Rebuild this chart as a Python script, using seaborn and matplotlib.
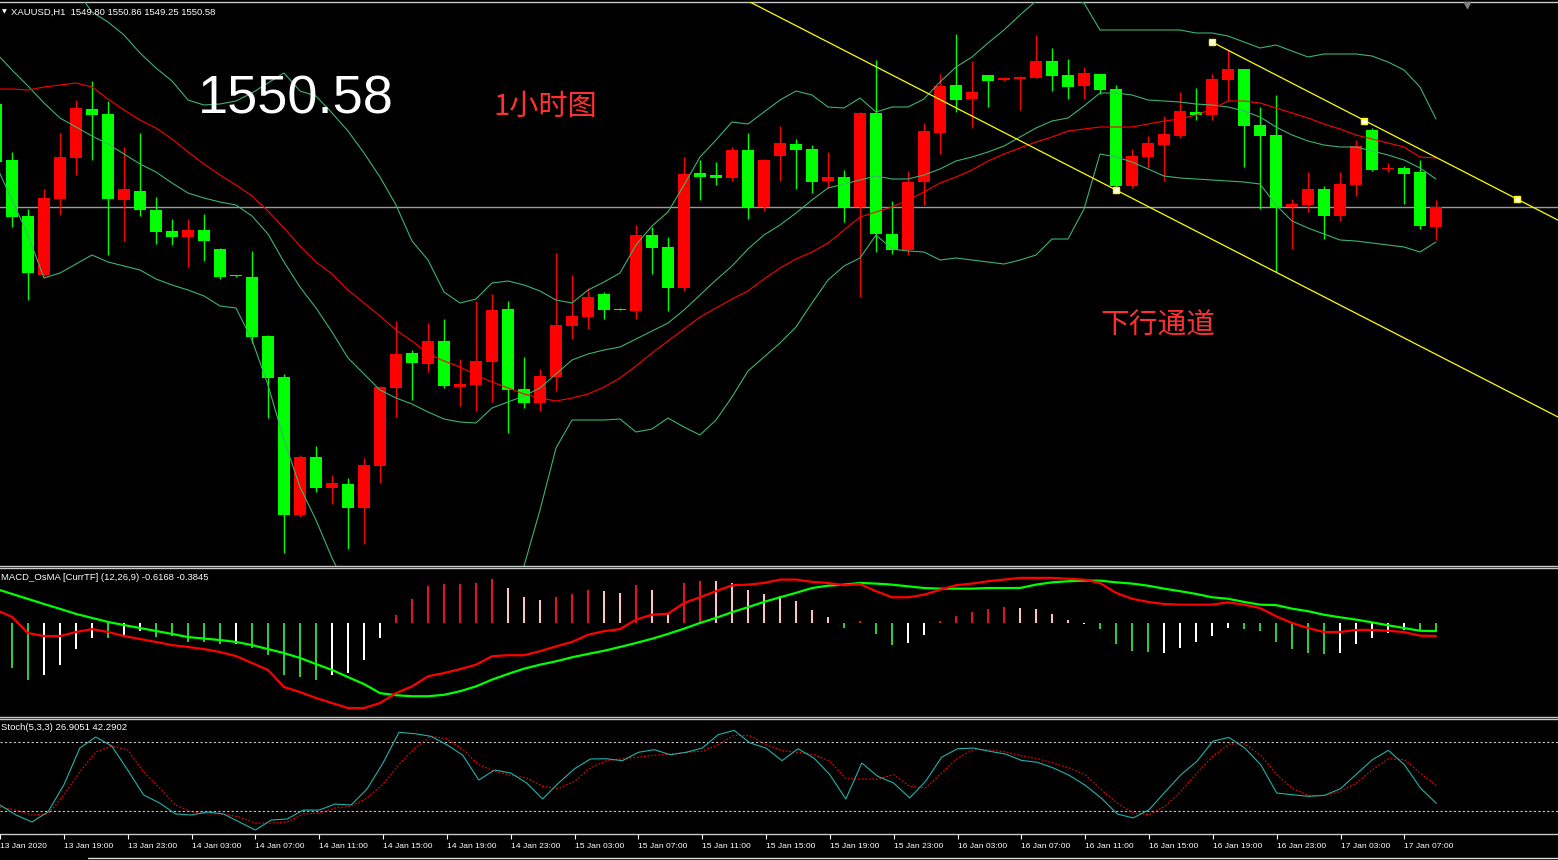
import numpy as np
import matplotlib
matplotlib.use("Agg")
import matplotlib.pyplot as plt
import seaborn as sns
from matplotlib.lines import Line2D
from matplotlib import font_manager

# ---------------- data ----------------
symbol_header = "XAUUSD,H1  1549.80 1550.86 1549.25 1550.58"
macd_header = "MACD_OsMA [CurrTF] (12,26,9) -0.6168 -0.3845"
stoch_header = "Stoch(5,3,3) 26.9051 42.2902"
price_label = "1550.58"
note_tf = "1小时图"
note_channel = "下行通道"

tick_pos = [0, 4, 8, 12, 16, 20, 24, 28, 32, 36, 40, 44, 48, 52, 56, 60, 64, 68, 72, 76, 80, 84, 88]
tick_labels = ["13 Jan 2020", "13 Jan 19:00", "13 Jan 23:00", "14 Jan 03:00", "14 Jan 07:00",
               "14 Jan 11:00", "14 Jan 15:00", "14 Jan 19:00", "14 Jan 23:00", "15 Jan 03:00",
               "15 Jan 07:00", "15 Jan 11:00", "15 Jan 15:00", "15 Jan 19:00", "15 Jan 23:00",
               "16 Jan 03:00", "16 Jan 07:00", "16 Jan 11:00", "16 Jan 15:00", "16 Jan 19:00",
               "16 Jan 23:00", "17 Jan 03:00", "17 Jan 07:00"]

opens = [1554.70, 1552.46, 1550.22, 1547.86, 1550.90, 1552.54, 1554.50, 1554.30, 1550.86, 1551.22,
         1550.46, 1549.62, 1549.38, 1549.66, 1548.90, 1547.86, 1547.78, 1545.42, 1543.78, 1538.26,
         1540.58, 1539.34, 1539.50, 1538.54, 1540.22, 1543.34, 1544.74, 1544.30, 1545.22, 1543.38,
         1543.46, 1544.38, 1546.50, 1543.30, 1542.74, 1543.78, 1545.82, 1546.18, 1547.10, 1546.50,
         1546.42, 1549.46, 1548.98, 1547.34, 1551.94, 1551.86, 1551.74, 1552.86, 1550.58, 1552.62,
         1553.10, 1552.90, 1551.62, 1551.78, 1550.58, 1554.34, 1549.50, 1548.86, 1551.58, 1553.54,
         1555.46, 1554.90, 1555.86, 1555.66, 1555.70, 1555.74, 1556.42, 1555.86, 1555.42, 1555.90,
         1555.30, 1551.42, 1552.58, 1553.06, 1553.42, 1554.38, 1554.26, 1555.66, 1556.10, 1553.86,
         1553.46, 1550.58, 1550.66, 1551.30, 1550.22, 1551.46, 1553.66, 1552.12, 1552.14, 1551.98,
         1549.80]
highs = [1554.86, 1552.78, 1550.50, 1551.30, 1553.54, 1554.86, 1555.62, 1554.82, 1552.98, 1553.54,
         1550.98, 1550.10, 1550.10, 1550.30, 1548.94, 1547.86, 1548.82, 1545.46, 1543.90, 1540.66,
         1541.02, 1539.86, 1539.74, 1540.54, 1543.42, 1546.02, 1544.86, 1545.94, 1546.10, 1544.50,
         1546.82, 1547.10, 1546.82, 1544.58, 1544.10, 1548.74, 1547.86, 1547.34, 1547.18, 1546.54,
         1549.86, 1549.78, 1549.38, 1552.58, 1552.46, 1552.38, 1552.98, 1553.54, 1552.50, 1553.82,
         1553.30, 1553.06, 1552.78, 1552.06, 1554.38, 1556.46, 1550.82, 1552.02, 1553.94, 1555.90,
         1557.50, 1556.42, 1555.86, 1555.74, 1555.82, 1557.46, 1556.94, 1556.50, 1556.18, 1555.90,
         1555.46, 1552.90, 1553.42, 1554.22, 1555.18, 1555.34, 1555.90, 1556.86, 1556.10, 1554.58,
         1555.06, 1550.90, 1551.98, 1551.42, 1551.98, 1553.26, 1553.74, 1552.34, 1552.22, 1552.46,
         1550.86]
lows = [1552.26, 1549.78, 1546.86, 1547.82, 1550.26, 1551.86, 1552.46, 1548.66, 1549.22, 1550.22,
        1549.10, 1549.06, 1548.18, 1548.42, 1547.70, 1547.78, 1545.14, 1542.14, 1536.74, 1538.18,
        1539.18, 1538.70, 1536.90, 1537.10, 1539.54, 1542.18, 1542.86, 1543.98, 1543.34, 1542.62,
        1542.42, 1542.78, 1541.54, 1542.54, 1542.42, 1543.22, 1545.30, 1545.70, 1546.10, 1546.46,
        1546.10, 1547.90, 1546.42, 1547.22, 1550.86, 1551.46, 1551.62, 1550.10, 1550.42, 1551.62,
        1551.30, 1551.14, 1551.34, 1549.98, 1546.98, 1548.78, 1548.70, 1548.66, 1550.66, 1552.70,
        1554.38, 1553.74, 1554.58, 1555.62, 1554.46, 1555.74, 1555.22, 1554.90, 1554.90, 1555.10,
        1551.30, 1551.34, 1552.14, 1551.62, 1553.34, 1554.06, 1554.06, 1554.82, 1552.18, 1550.50,
        1547.98, 1548.90, 1550.38, 1549.30, 1550.02, 1551.02, 1552.02, 1551.98, 1550.70, 1549.70,
        1549.25]
closes = [1552.38, 1550.18, 1547.94, 1550.94, 1552.58, 1554.54, 1554.26, 1550.90, 1551.30, 1550.46,
          1549.58, 1549.38, 1549.66, 1549.22, 1547.78, 1547.82, 1545.38, 1543.74, 1538.26, 1540.58,
          1539.34, 1539.54, 1538.54, 1540.26, 1543.38, 1544.70, 1544.34, 1545.22, 1543.42, 1543.50,
          1544.42, 1546.46, 1543.26, 1542.74, 1543.82, 1545.86, 1546.22, 1546.98, 1546.46, 1546.46,
          1549.46, 1548.94, 1547.34, 1551.90, 1551.78, 1551.74, 1552.86, 1550.58, 1552.46, 1553.14,
          1552.86, 1551.58, 1551.78, 1550.58, 1554.34, 1549.50, 1548.86, 1551.58, 1553.62, 1555.42,
          1554.86, 1555.18, 1555.62, 1555.74, 1555.78, 1556.42, 1555.82, 1555.38, 1555.94, 1555.26,
          1551.42, 1552.62, 1553.14, 1553.50, 1554.42, 1554.26, 1555.70, 1556.10, 1553.82, 1553.42,
          1550.58, 1550.70, 1551.30, 1550.22, 1551.50, 1553.02, 1552.06, 1552.14, 1551.90, 1549.82,
          1550.58]

bb_upper = [1561.22, 1561.26, 1561.38, 1561.46, 1560.34, 1559.26, 1558.38, 1557.98, 1557.46, 1556.74,
            1556.14, 1555.62, 1554.86, 1554.66, 1554.70, 1554.82, 1555.14, 1555.54, 1555.94, 1555.22,
            1555.02, 1554.34, 1553.62, 1552.74, 1551.78, 1550.66, 1549.22, 1548.46, 1547.18, 1546.74,
            1546.90, 1547.54, 1547.62, 1547.46, 1547.22, 1546.86, 1546.74, 1547.26, 1547.58, 1547.94,
            1549.06, 1549.82, 1550.38, 1551.46, 1552.58, 1553.26, 1553.98, 1553.90, 1554.38, 1554.86,
            1555.22, 1555.06, 1554.58, 1554.54, 1554.94, 1554.38, 1554.58, 1554.58, 1554.90, 1555.58,
            1556.18, 1556.58, 1557.14, 1557.66, 1558.26, 1558.82, 1558.86, 1558.98, 1558.74, 1557.66,
            1557.66, 1557.66, 1557.66, 1557.66, 1557.66, 1557.54, 1557.54, 1557.42, 1557.18, 1556.94,
            1557.06, 1556.82, 1556.58, 1556.70, 1556.70, 1556.70, 1556.62, 1556.38, 1556.06, 1555.38,
            1554.10]
bb_middle = [1556.74, 1556.06, 1555.42, 1554.74, 1554.14, 1553.78, 1553.42, 1553.10, 1552.70, 1552.30,
             1551.98, 1551.54, 1551.14, 1550.94, 1550.78, 1550.66, 1550.22, 1549.50, 1548.38, 1547.38,
             1546.54, 1545.58, 1544.54, 1543.90, 1543.26, 1542.94, 1542.70, 1542.38, 1542.10, 1541.98,
             1541.94, 1542.54, 1542.78, 1543.02, 1543.34, 1543.90, 1544.46, 1544.70, 1544.86, 1544.98,
             1545.30, 1545.62, 1545.94, 1546.46, 1547.06, 1547.66, 1548.22, 1548.90, 1549.46, 1549.86,
             1550.34, 1550.86, 1551.34, 1551.50, 1551.66, 1551.82, 1551.70, 1551.70, 1551.86, 1552.10,
             1552.42, 1552.58, 1552.78, 1553.02, 1553.38, 1553.74, 1554.02, 1554.14, 1554.62, 1555.14,
             1555.14, 1555.06, 1554.86, 1554.82, 1554.78, 1554.70, 1554.66, 1554.58, 1554.42, 1554.18,
             1553.78, 1553.46, 1553.22, 1553.06, 1552.98, 1552.98, 1552.82, 1552.66, 1552.46, 1552.14,
             1551.70]
bb_lower = [1552.26, 1550.86, 1549.46, 1547.74, 1547.94, 1548.30, 1548.66, 1548.38, 1548.22, 1548.06,
            1547.70, 1547.46, 1547.26, 1547.02, 1546.62, 1546.54, 1545.26, 1543.46, 1541.26, 1539.38,
            1538.06, 1536.54, 1535.26, 1534.86, 1534.66, 1534.86, 1535.06, 1535.26, 1535.46, 1535.66,
            1535.74, 1535.86, 1535.98, 1536.22, 1538.46, 1540.94, 1542.06, 1542.06, 1542.06, 1542.10,
            1541.58, 1541.70, 1542.14, 1541.78, 1541.46, 1542.06, 1542.98, 1544.02, 1544.58, 1545.14,
            1545.78, 1546.74, 1547.66, 1548.22, 1548.54, 1549.46, 1548.90, 1548.82, 1548.78, 1548.46,
            1548.54, 1548.46, 1548.38, 1548.30, 1548.46, 1548.66, 1549.30, 1549.30, 1550.50, 1552.70,
            1552.58, 1552.38, 1552.10, 1551.82, 1551.74, 1551.70, 1551.66, 1551.62, 1551.58, 1551.50,
            1550.66, 1550.02, 1549.74, 1549.50, 1549.26, 1549.22, 1549.14, 1549.06, 1548.98, 1548.78,
            1549.18]
ma_red = [1555.30, 1555.30, 1555.26, 1555.38, 1555.46, 1555.54, 1555.38, 1554.90, 1554.46, 1554.06,
          1553.74, 1553.30, 1552.78, 1552.30, 1551.86, 1551.46, 1551.02, 1550.42, 1549.74, 1549.02,
          1548.38, 1547.90, 1547.26, 1546.74, 1546.22, 1545.66, 1545.22, 1544.70, 1544.42, 1544.18,
          1543.86, 1543.58, 1543.34, 1543.10, 1542.94, 1542.82, 1542.94, 1543.10, 1543.38, 1543.74,
          1544.22, 1544.74, 1545.22, 1545.70, 1546.18, 1546.54, 1546.90, 1547.22, 1547.70, 1548.14,
          1548.50, 1548.78, 1549.14, 1549.66, 1550.18, 1550.38, 1550.58, 1550.86, 1551.18, 1551.54,
          1551.78, 1552.06, 1552.42, 1552.70, 1552.94, 1553.18, 1553.38, 1553.62, 1553.70, 1553.78,
          1553.78, 1553.78, 1553.90, 1554.02, 1554.10, 1554.26, 1554.50, 1554.82, 1554.82, 1554.74,
          1554.54, 1554.34, 1554.14, 1553.90, 1553.70, 1553.46, 1553.30, 1553.14, 1552.98, 1552.58,
          1552.54]

# channel trend lines: (bar index, price) anchors
chan_upper_t = [76.0, 95.06]
chan_upper_p = [1557.18, 1550.90]
chan_lower_t = [70.0, 97.625]
chan_lower_p = [1551.26, 1542.18]

macd_main = [0.62, 0.29, -0.48, -0.62, -0.62, -0.43, -0.29, -0.43, -0.62, -0.76,
             -0.90, -1.05, -1.14, -1.24, -1.38, -1.57, -1.90, -2.23, -3.04, -3.28,
             -3.56, -3.80, -4.04, -4.04, -3.80, -3.33, -3.01, -2.53, -2.38, -2.19,
             -1.98, -1.58, -1.53, -1.53, -1.34, -1.11, -0.90, -0.56, -0.39, -0.29,
             0.16, 0.39, 0.44, 0.95, 1.22, 1.51, 1.79, 1.82, 1.90, 2.06,
             2.06, 1.95, 1.90, 1.79, 1.85, 1.51, 1.22, 1.22, 1.34, 1.58,
             1.79, 1.87, 1.98, 2.06, 2.14, 2.14, 2.14, 2.10, 2.06, 1.90,
             1.43, 1.15, 1.00, 0.90, 0.87, 0.87, 0.87, 0.98, 0.87, 0.71,
             0.32, 0.00, -0.24, -0.43, -0.43, -0.33, -0.33, -0.37, -0.43, -0.60,
             -0.6168]
macd_signal = [1.62, 1.38, 1.14, 0.90, 0.67, 0.43, 0.24, 0.05, -0.10, -0.24,
               -0.38, -0.52, -0.67, -0.74, -0.81, -0.90, -1.05, -1.24, -1.43, -1.66,
               -1.95, -2.23, -2.57, -2.90, -3.33, -3.43, -3.48, -3.48, -3.41, -3.24,
               -3.01, -2.69, -2.42, -2.17, -1.98, -1.82, -1.63, -1.47, -1.32, -1.14,
               -0.95, -0.75, -0.52, -0.27, 0.00, 0.24, 0.51, 0.75, 1.00, 1.22,
               1.43, 1.66, 1.77, 1.82, 1.90, 1.87, 1.82, 1.74, 1.66, 1.63,
               1.63, 1.63, 1.66, 1.66, 1.66, 1.82, 1.93, 1.98, 2.01, 2.01,
               1.93, 1.87, 1.77, 1.63, 1.51, 1.38, 1.22, 1.15, 1.00, 0.87,
               0.85, 0.68, 0.56, 0.39, 0.27, 0.16, 0.03, -0.11, -0.24, -0.37,
               -0.3845]
osma_hist = [-2.14, -2.14, -2.71, -2.47, -2.00, -1.24, -0.71, -0.71, -0.57, -0.38,
             -0.67, -0.62, -0.90, -0.90, -1.00, -1.00, -1.19, -1.52, -2.47, -2.57,
             -2.71, -2.47, -2.38, -1.76, -0.71, 0.38, 1.14, 1.76, 1.85, 1.85,
             1.90, 2.09, 1.66, 1.24, 1.09, 1.24, 1.38, 1.57, 1.52, 1.43,
             1.81, 1.57, 0.48, 1.90, 2.00, 2.00, 1.90, 1.57, 1.38, 1.28,
             1.05, 0.62, 0.29, -0.24, 0.10, -0.52, -1.05, -0.95, -0.57, 0.10,
             0.33, 0.52, 0.67, 0.76, 0.71, 0.67, 0.43, 0.14, -0.05, -0.29,
             -1.00, -1.33, -1.38, -1.43, -1.19, -0.90, -0.62, -0.24, -0.29, -0.38,
             -0.90, -1.24, -1.43, -1.47, -1.43, -1.00, -0.71, -0.48, -0.33, -0.33,
             -0.38]
# histogram bar state as seen: r=up/rising, p=up/falling, g=down/falling, w=down/rising
osma_state = list("gggwwwwgwwgggggwgggggwwww"
                  "rrrrrrrppprrrpprpprrpppppppp"
                  "grggwwrrrrrppppwggggwwwwwggggggwwwwwgg")

stoch_k = [25.5, 16.8, 10.7, 19.4, 42.9, 75.0, 84.6, 76.8, 55.9, 34.2,
           27.2, 17.7, 16.8, 19.4, 17.7, 10.7, 3.7, 12.4, 13.3, 21.1,
           21.1, 26.3, 25.5, 39.4, 62.0, 88.7, 87.5, 85.2, 77.9, 68.7,
           47.2, 55.9, 53.3, 44.6, 30.7, 44.6, 57.0, 65.5, 65.7, 64.0,
           71.3, 73.6, 69.2, 71.3, 75.0, 86.6, 90.4, 79.4, 75.0, 64.0,
           74.4, 66.3, 51.8, 30.7, 62.0, 50.4, 44.6, 31.6, 46.1, 67.0,
           74.4, 75.0, 72.2, 69.8, 64.3, 62.6, 57.7, 51.3, 42.6, 31.6,
           17.7, 14.2, 21.4, 36.8, 51.8, 63.5, 80.9, 84.3, 75.0, 60.5,
           35.9, 34.4, 33.0, 33.9, 39.7, 52.4, 64.9, 73.0, 60.5, 40.3,
           26.9051]
stoch_d = [23.7, 21.1, 16.8, 17.7, 34.2, 54.2, 71.6, 76.8, 73.3, 54.2,
           40.3, 25.5, 19.4, 17.7, 17.7, 15.0, 9.8, 9.8, 10.7, 17.7,
           18.5, 22.9, 24.6, 31.6, 43.7, 60.5, 75.0, 85.2, 83.1, 73.6,
           60.5, 54.8, 51.3, 49.0, 41.7, 39.7, 46.1, 57.7, 64.0, 65.7,
           67.0, 68.7, 69.8, 71.3, 72.2, 77.9, 86.1, 85.7, 77.9, 72.7,
           71.3, 69.2, 63.5, 48.3, 48.1, 48.1, 51.8, 41.7, 40.3, 53.3,
           66.3, 73.6, 73.6, 71.6, 68.3, 65.7, 62.0, 57.7, 51.8, 38.8,
           27.2, 18.5, 17.0, 24.3, 37.4, 53.3, 67.8, 78.5, 78.5, 68.7,
           51.8, 39.7, 33.9, 33.6, 37.4, 44.6, 56.2, 65.7, 64.9, 53.3,
           42.2902]
stoch_levels = [20, 80]

# ---------------- style ----------------
sns.set_theme(style="dark")
plt.rcParams["font.family"] = ["Liberation Sans", "DejaVu Sans"]
plt.rcParams["axes.facecolor"] = "black"
plt.rcParams["figure.facecolor"] = "black"

names = {f.name for f in font_manager.fontManager.ttflist}
if "Liberation Sans Narrow" in names:
    tick_family, tick_size = "Liberation Sans Narrow", 6.8
else:
    tick_family, tick_size = "Liberation Sans", 6.1

W, H = 1558, 860
fig = plt.figure(figsize=(W / 100, H / 100), dpi=100, facecolor="black")


def fx(x):
    return x / W


def fy(y):
    return 1 - y / H


ax = fig.add_axes([0, fy(566), 1, (566 - 2) / H])
axm = fig.add_axes([0, fy(716.5), 1, (716.5 - 568) / H])
axs = fig.add_axes([0, fy(834.3), 1, (834.3 - 719.3) / H])

XMIN, XMAX = 0.25, 97.625
for a in (ax, axm, axs):
    a.set_facecolor("black")
    a.set_xlim(XMIN, XMAX)
    a.grid(False)
    a.set_yticks([])
    for s in ("left", "right"):
        a.spines[s].set_visible(False)
    for s in ("top", "bottom"):
        a.spines[s].set_visible(True)
        a.spines[s].set_color("#c8c8c8")
        a.spines[s].set_linewidth(1)
ax.set_xticks([])
axm.set_xticks([])

t = np.arange(len(opens))
o = np.array(opens); c = np.array(closes); hi = np.array(highs); lo = np.array(lows)

# ---------------- main price panel ----------------
ax.set_ylim(1536.22, 1558.78)
ax.axhline(closes[-1], color="#9a9a9a", lw=1, zorder=1)

up = c >= o
ccol = np.where(up, "#ff0000", "#00ff00")
ax.vlines(t, lo, hi, colors=ccol, lw=1.0, zorder=3)
body_lo = np.minimum(o, c)
body_h = np.maximum(np.abs(c - o), 0.035)
ax.bar(t, body_h, bottom=body_lo, width=0.69, color=ccol, linewidth=0, zorder=4)

band_col = "#3cb371"
for series in (bb_upper, bb_middle, bb_lower):
    sns.lineplot(x=t, y=series, ax=ax, color=band_col, linewidth=0.8, legend=False, zorder=5)
sns.lineplot(x=t, y=ma_red, ax=ax, color="#ff0000", linewidth=0.8, legend=False, zorder=5)

# channel lines
ax.axline((chan_lower_t[0], chan_lower_p[0]), (chan_lower_t[1], chan_lower_p[1]),
          color="#ffff00", lw=0.9, zorder=6)
slope = (chan_upper_p[1] - chan_upper_p[0]) / (chan_upper_t[1] - chan_upper_t[0])
ax.plot([chan_upper_t[0], XMAX + 2],
        [chan_upper_p[0], chan_upper_p[0] + slope * (XMAX + 2 - chan_upper_t[0])],
        color="#ffff00", lw=0.9, zorder=6)
mid_t = (chan_upper_t[0] + chan_upper_t[1]) / 2
mid_p = (chan_upper_p[0] + chan_upper_p[1]) / 2
ax.plot([chan_upper_t[0], mid_t, chan_upper_t[1], chan_lower_t[0]],
        [chan_upper_p[0], mid_p, chan_upper_p[1], chan_lower_p[0]],
        ls="none", marker="s", ms=4, mfc="white", mec="#ffff00", mew=1, zorder=7)
ax.set_xlabel(""); ax.set_ylabel("")

# ---------------- MACD panel ----------------
axm.set_ylim(-4.44, 2.61)
cmap = {"r": "#e81414", "p": "#ffc0cb", "g": "#32cd32", "w": "#ffffff"}
axm.bar(t, osma_hist, width=0.17, color=[cmap[s] for s in osma_state], linewidth=0, zorder=2)
sns.lineplot(x=t, y=macd_main, ax=axm, color="#ff0000", linewidth=1.6, legend=False, zorder=4)
sns.lineplot(x=t, y=macd_signal, ax=axm, color="#00ff00", linewidth=1.6, legend=False, zorder=3)
axm.set_xlabel(""); axm.set_ylabel("")

# ---------------- Stochastic panel ----------------
axs.set_ylim(0, 100)
for lv in stoch_levels:
    axs.axhline(lv, color="#c8c8c8", lw=0.8, dashes=(2, 2), zorder=1)
sns.lineplot(x=t, y=stoch_k, ax=axs, color="#20b2aa", linewidth=0.8, legend=False, zorder=3)
sns.lineplot(x=t, y=stoch_d, ax=axs, color="#ff0000", linewidth=0.8, legend=False, zorder=2)
axs.lines[-1].set_dashes([1.6, 1.6])
axs.set_xlabel(""); axs.set_ylabel("")

axs.set_xticks(tick_pos)
axs.set_xticklabels(tick_labels)
axs.tick_params(axis="x", which="both", bottom=True, top=False, direction="out",
                length=3.5, width=0.8, color="white", pad=2.5,
                labelsize=tick_size, labelcolor="white")
for lbl in axs.get_xticklabels():
    lbl.set_ha("left")
    lbl.set_family(tick_family)

# ---------------- texts & decorations ----------------
fig.text(fx(2), fy(12), "▼", fontsize=4.5, color="white", va="center", ha="left",
         family="DejaVu Sans")
fig.text(fx(11), fy(12), symbol_header, fontsize=6.8, color="white", va="center", ha="left")
fig.text(fx(1), fy(578), macd_header, fontsize=6.8, color="white", va="center", ha="left")
fig.text(fx(1), fy(728), stoch_header, fontsize=6.8, color="white", va="center", ha="left")

fig.text(fx(198), fy(113), price_label, fontsize=39, color="white", va="baseline", ha="left")
fig.text(fx(493), fy(107), note_tf, fontsize=21, color="#ff3030", va="center", ha="left",
         family=["Noto Sans CJK SC", "DejaVu Sans"])
fig.text(fx(1100), fy(326), note_channel, fontsize=20.7, color="#ff3030", va="center",
         ha="left", family=["Noto Sans CJK SC", "DejaVu Sans"])

# chart-shift marker and bottom tab line
fig.add_artist(Line2D([fx(1467)], [fy(5)], marker="v", ms=5, color="#808080",
                      transform=fig.transFigure))
fig.add_artist(Line2D([fx(88), 1], [fy(857.5), fy(857.5)], color="#e0e0e0", lw=1,
                      transform=fig.transFigure))

fig.savefig("out.png", dpi=100, facecolor="black")
